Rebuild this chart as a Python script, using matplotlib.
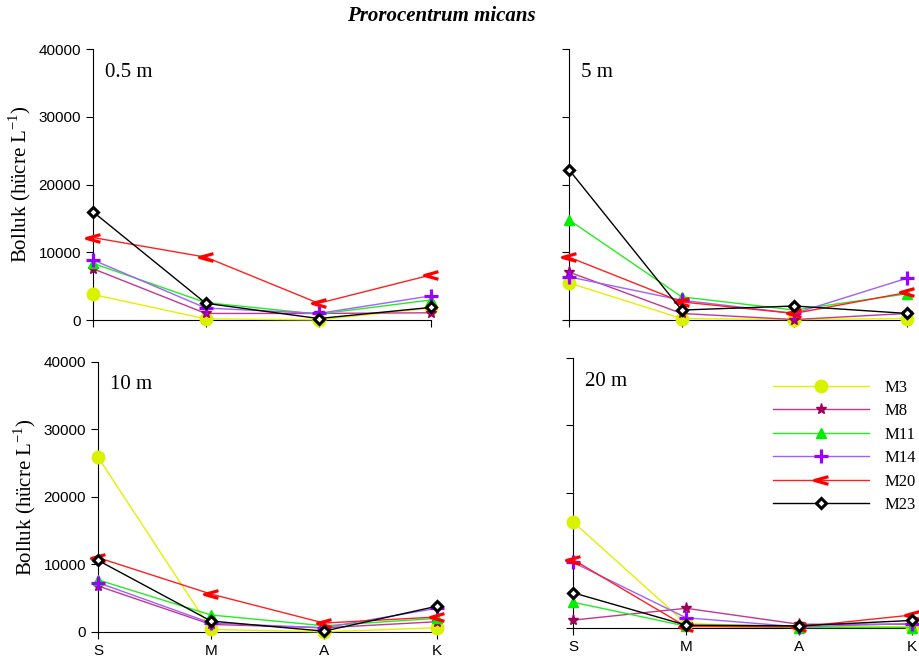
import matplotlib.pyplot as plt
from matplotlib.path import Path

plt.rcParams['font.family'] = ['Liberation Sans', 'DejaVu Sans']

aylar = ['S', 'M', 'A', 'K']
istasyonlar = ['M3', 'M8', 'M11', 'M14', 'M20', 'M23']
derinlikler = ['0.5 m', '5 m', '10 m', '20 m']

# bolluk değerleri (hücre/L), her derinlik için S, M, A, K
m3 = [[3800, 200, 50, 1800], [5500, 250, 100, 250],
      [25900, 350, 0, 600], [15700, 640, 150, 200]]
m8 = [[7600, 1000, 1000, 1100], [7100, 1000, 100, 1000],
      [6800, 1100, 600, 1500], [1150, 2900, 540, 540]]
m11 = [[8400, 2600, 900, 3000], [14800, 3450, 1500, 3900],
       [7700, 2500, 900, 2000], [3800, 250, 50, 50]]
m14 = [[8900, 1800, 1000, 3600], [6400, 2950, 1000, 6200],
       [7300, 1300, 600, 3500], [9700, 1500, 150, 640]]
m20 = [[12200, 9300, 2500, 6700], [9300, 2700, 1000, 4100],
       [11000, 5600, 1300, 2200], [10100, 200, 150, 1900]]
m23 = [[16000, 2500, 250, 1900], [22200, 1500, 2100, 1000],
       [10600, 1600, 100, 3800], [5200, 400, 300, 1100]]
seriler = [m3, m8, m11, m14, m20, m23]

# sola bakan ok işareti
ok = Path([(1, 0.55), (-1, 0), (1, -0.55)],
          [Path.MOVETO, Path.LINETO, Path.LINETO])

cizgi_renk = ['#e3f000', '#c2388f', '#22ee22', '#a060ff', '#ff2020', '#000000']
isaret_renk = ['#d8f200', '#a0005a', '#00ee00', '#9a00ff', '#ff0000', '#000000']
isaretler = ['o', '*', '^', '+', ok, 'D']
boyut = [9, 8, 7, 10, 10, 5.5]

fig = plt.figure(figsize=(9.2, 6.63), dpi=100)
konumlar = [[0.101, 0.517, 0.368, 0.409],
            [0.6185, 0.517, 0.3675, 0.409],
            [0.1065, 0.047, 0.3685, 0.407],
            [0.623, 0.053, 0.368, 0.407]]

for p in range(4):
    ax = fig.add_axes(konumlar[p])
    for i in range(6):
        mk = isaretler[i]
        ic = isaret_renk[i]
        if mk in ('o', '^', '*'):
            fc, ec, mew = ic, ic, 1
        elif mk == 'D':
            fc, ec, mew = 'white', ic, 2.2
        else:
            fc, ec, mew = 'none', ic, 2.3
        ax.plot(range(4), seriler[i][p], color=cizgi_renk[i], lw=1,
                marker=mk, ms=boyut[i], mfc=fc, mec=ec, mew=mew,
                clip_on=False, label=istasyonlar[i], zorder=3 + i)
    ax.set_xlim(0, 3)
    ax.set_ylim(0, 40000)
    ax.set_yticks([0, 10000, 20000, 30000, 40000])
    ax.set_xticks(range(4))
    ax.spines['top'].set_visible(False)
    ax.spines['right'].set_visible(False)
    ax.tick_params(direction='out', length=5, labelsize=11, colors='black')
    if p < 2:
        ax.set_xticklabels([])
    else:
        ax.set_xticklabels(aylar)
    if p % 2 == 1:
        ax.set_yticklabels([])
    else:
        ax.set_ylabel('Bolluk (hücre L$^{\\mathregular{-1}}$)',
                      family='Liberation Serif', fontsize=15, labelpad=4)
    ax.text(0.035, 0.95, derinlikler[p], transform=ax.transAxes,
            family='Liberation Serif', fontsize=15, va='top')
    if p == 3:
        ax.legend(loc='upper left', bbox_to_anchor=(0.545, 0.975), frameon=False,
                  handlelength=5.8, labelspacing=0.45, handletextpad=0.9,
                  prop={'family': 'Liberation Serif', 'size': 12})

fig.text(0.48, 0.976, 'Prorocentrum micans', ha='center', va='center',
         family='Liberation Serif', style='italic', weight='bold', fontsize=15)

fig.savefig('out.png', dpi=100)
